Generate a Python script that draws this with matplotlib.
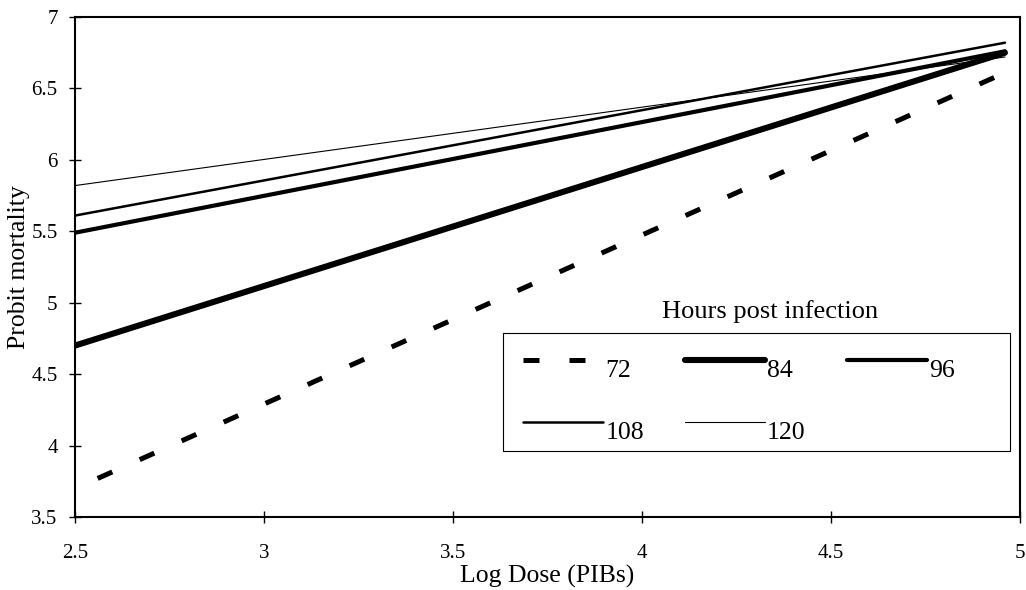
import matplotlib
matplotlib.use("Agg")
import matplotlib.pyplot as plt
from matplotlib.patches import Rectangle

plt.rcParams['font.family'] = ['Liberation Serif', 'DejaVu Serif']

# probit regression lines: (start x, end x), (start y, end y)
hours = ["72", "84", "96", "108", "120"]
x_ends = {
    "72": [2.56, 4.96],
    "84": [2.5, 4.96],
    "96": [2.5, 4.96],
    "108": [2.5, 4.96],
    "120": [2.5, 4.96],
}
y_ends = {
    "72": [3.77, 6.61],
    "84": [4.70, 6.75],
    "96": [5.49, 6.76],
    "108": [5.61, 6.82],
    "120": [5.82, 6.72],
}
widths = {"72": 3.6, "84": 4.4, "96": 3.0, "108": 1.8, "120": 0.8}

xticks = [2.5, 3, 3.5, 4, 4.5, 5]
yticks = [3.5, 4, 4.5, 5, 5.5, 6, 6.5, 7]

fig = plt.figure(figsize=(10.26, 5.90), dpi=100)
ax = fig.add_axes([0.0731, 0.1237, 0.9211, 0.8475])

lines = {}
for h in hours:
    if h == "72":
        ln, = ax.plot(x_ends[h], y_ends[h], color="black", lw=widths[h],
                      dashes=(3.2, 6), dash_capstyle="butt", label=h)
    else:
        ln, = ax.plot(x_ends[h], y_ends[h], color="black", lw=widths[h],
                      solid_capstyle="round", label=h)
    lines[h] = ln

ax.set_xlim(2.5, 5)
ax.set_ylim(3.5, 7)
ax.set_xticks(xticks)
ax.set_yticks(yticks)
ax.set_xticklabels([f"{t:g}" for t in xticks])
ax.set_yticklabels([f"{t:g}" for t in yticks])
ax.tick_params(axis="both", direction="inout", length=9, width=1, labelsize=15)
ax.tick_params(axis="x", pad=15)
ax.tick_params(axis="y", pad=8)
for s in ax.spines.values():
    s.set_linewidth(1.5)

ax.set_xlabel("Log Dose (PIBs)", fontsize=18.5, labelpad=1)
ax.set_ylabel("Probit mortality", fontsize=18.5, labelpad=1)

# legend filled column-wise, so order to read 72 84 96 / 108 120 by rows
order = ["72", "108", "84", "120", "96"]
leg = ax.legend([lines[h] for h in order], order, loc="upper left",
                bbox_to_anchor=(0.474, 0.332), ncol=3, fontsize=18.5,
                frameon=False, handlelength=3.1, handletextpad=0.1,
                labelspacing=1.5, borderaxespad=0, borderpad=0,
                columnspacing=1.6)
for t in leg.get_texts():
    t.set_y(-8)
ax.add_patch(Rectangle((0.453, 0.132), 0.536, 0.236, transform=ax.transAxes,
                       fill=False, edgecolor="black", lw=0.8))
ax.text(0.735, 0.41, "Hours post infection", transform=ax.transAxes,
        ha="center", va="center", fontsize=19)

fig.savefig("out.png", dpi=100)
